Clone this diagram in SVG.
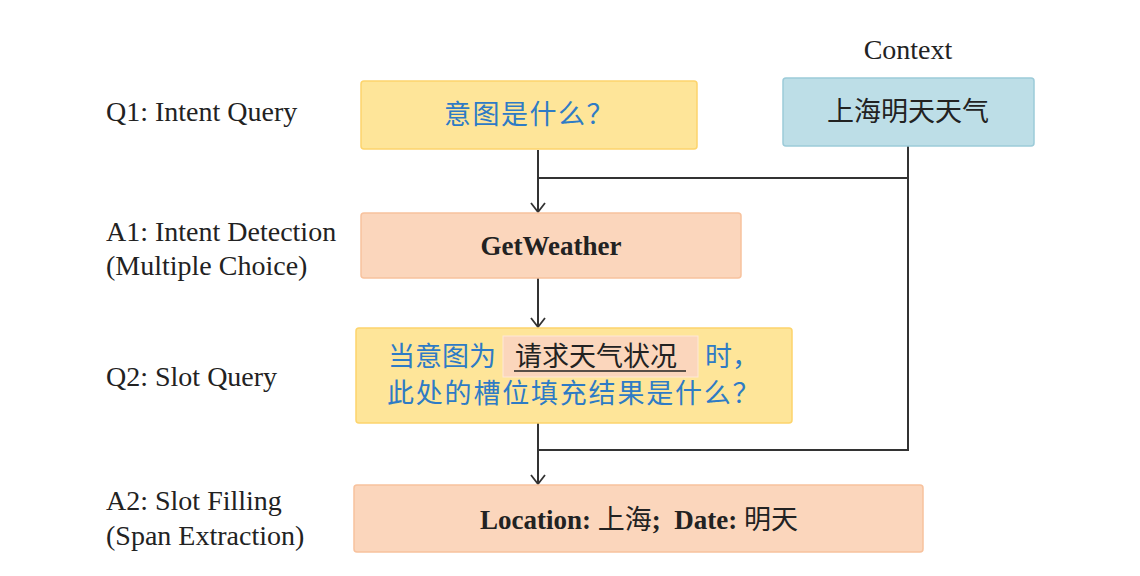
<svg xmlns="http://www.w3.org/2000/svg" width="1140" height="576" viewBox="0 0 1140 576">
<style>
.lbl{font-family:"Liberation Serif","Noto Sans CJK SC",serif;font-size:28px;fill:#222}
.cn{font-family:"Liberation Serif","Noto Sans CJK SC",serif;font-size:27px}
.blue{fill:#2e7bc5}
.bold{font-weight:bold;fill:#222}
.yel{fill:#fee599;stroke:#fdd46c;stroke-width:1.5}
.ora{fill:#fbd6bc;stroke:#f8c29d;stroke-width:1.5}
.cyan{fill:#bddee7;stroke:#9ccbd9;stroke-width:1.5}
.wire{fill:none;stroke:#333;stroke-width:2}
</style>
<defs>
<marker id="arr" viewBox="0 0 12 16" refX="10" refY="8" markerWidth="12" markerHeight="16" markerUnits="userSpaceOnUse" orient="auto">
<path d="M1 1 L10 8 L1 15" fill="none" stroke="#333" stroke-width="1.8"/>
</marker>
</defs>
<rect width="1140" height="576" fill="#fff"/>
<g id="labels">
<text class="lbl" x="106" y="121">Q1: Intent Query</text>
<text class="lbl" x="106" y="241">A1: Intent Detection</text>
<text class="lbl" x="106" y="275">(Multiple Choice)</text>
<text class="lbl" x="106" y="386">Q2: Slot Query</text>
<text class="lbl" x="106" y="510">A2: Slot Filling</text>
<text class="lbl" x="106" y="545">(Span Extraction)</text>
<text class="lbl" x="908" y="59" text-anchor="middle">Context</text>
</g>
<g id="connectors">
<line class="wire" x1="538" y1="150" x2="538" y2="212" marker-end="url(#arr)"/>
<polyline class="wire" points="538,178 908,178 908,450 538,450"/>
<line class="wire" x1="908" y1="146" x2="908" y2="178"/>
<line class="wire" x1="538" y1="278" x2="538" y2="327" marker-end="url(#arr)"/>
<line class="wire" x1="538" y1="423" x2="538" y2="484" marker-end="url(#arr)"/>
</g>
<g id="q1">
<rect class="yel" x="361" y="81" width="336" height="68" rx="3"/>
<text class="cn blue" x="444" y="124" letter-spacing="1.5">意图是什么？</text>
</g>
<g id="context">
<rect class="cyan" x="783" y="78" width="251" height="68" rx="3"/>
<text class="cn" x="908" y="121" text-anchor="middle" fill="#222" font-size="28">上海明天天气</text>
</g>
<g id="a1">
<rect class="ora" x="361" y="213" width="380" height="65" rx="3"/>
<text class="cn bold" x="551" y="255" text-anchor="middle" font-size="29">GetWeather</text>
</g>
<g id="q2">
<rect class="yel" x="356" y="328" width="436" height="95" rx="3"/>
<rect x="503" y="336" width="195" height="41" fill="#fbd6bc" stroke="#fde8d8" stroke-width="1"/>
<text class="cn blue" x="388" y="366" font-size="28">当意图为</text>
<text class="cn" x="515" y="366" fill="#222" font-size="28">请求天气状况</text>
<line x1="514" y1="371" x2="686" y2="371" stroke="#222" stroke-width="1.3"/>
<text class="cn blue" x="705" y="366" font-size="28">时，</text>
<text class="cn blue" x="387" y="403" font-size="28" letter-spacing="1.8">此处的槽位填充结果是什么？</text>
</g>
<g id="a2">
<rect class="ora" x="354" y="485" width="569" height="67" rx="3"/>
<text class="cn bold" x="639" y="529" text-anchor="middle" font-size="28">Location: <tspan font-weight="normal">上海</tspan>;&#160; Date: <tspan font-weight="normal">明天</tspan></text>
</g>
</svg>
